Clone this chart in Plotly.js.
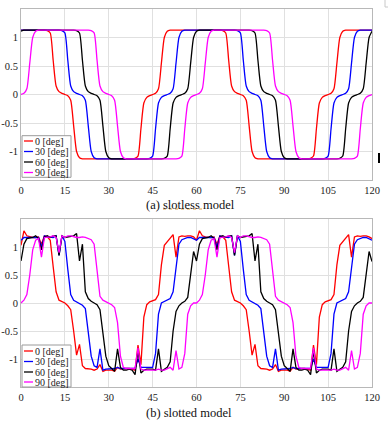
<!DOCTYPE html>
<html>
<head>
<meta charset="utf-8">
<script src="https://cdn.plot.ly/plotly-3.0.1.min.js"></script>
<style>
html,body{margin:0;padding:0;background:#fff;}
#chart{width:388px;height:426px;}
</style>
</head>
<body>
<div id="chart"></div>
<script>
// ---- data ----
const seriesNames = ["0 [deg]", "30 [deg]", "60 [deg]", "90 [deg]"];
const seriesColors = ["#ff0000", "#0000ff", "#000000", "#ff00ff"];
const xTickVals = [0, 15, 30, 45, 60, 75, 90, 105, 120];
const xTickText = ["0", "15", "30", "45", "60", "75", "90", "105", "120"];
const yTickVals = [-1, -0.5, 0, 0.5, 1];
const yTickText = ["-1", "-0.5", "0", "0.5", "1"];
const captionA = "(a) slotless model";
const captionB = "(b) slotted model";

// angle samples 0..120
const angle = [];
for (let i = 0; i <= 120; i++) angle.push(i);

// (a) slotless model
const slotless0 = [
1.13,1.13,1.13,1.13,1.13,1.13,1.13,1.13,1.13,1.12,
1.08,0.6,0.15,0.05,0.02,0,-0.02,-0.1,-0.55,-1,
-1.11,-1.13,-1.13,-1.13,-1.13,-1.13,-1.13,-1.13,-1.13,-1.13,
-1.13,-1.13,-1.13,-1.13,-1.13,-1.13,-1.13,-1.13,-1.13,-1.12,
-1.08,-0.6,-0.15,-0.05,-0.02,0,0.02,0.1,0.55,1,
1.11,1.13,1.13,1.13,1.13,1.13,1.13,1.13,1.13,1.13,
1.13,1.13,1.13,1.13,1.13,1.13,1.13,1.13,1.13,1.12,
1.08,0.6,0.15,0.05,0.02,0,-0.02,-0.1,-0.55,-1,
-1.11,-1.13,-1.13,-1.13,-1.13,-1.13,-1.13,-1.13,-1.13,-1.13,
-1.13,-1.13,-1.13,-1.13,-1.13,-1.13,-1.13,-1.13,-1.13,-1.12,
-1.08,-0.6,-0.15,-0.05,-0.02,0,0.02,0.1,0.55,1,
1.11,1.13,1.13,1.13,1.13,1.13,1.13,1.13,1.13,1.13,
1.13];
const slotless30 = [
1.13,1.13,1.13,1.13,1.13,
1.13,1.13,1.13,1.13,1.13,1.13,1.13,1.13,1.13,1.12,
1.08,0.6,0.15,0.05,0.02,0,-0.02,-0.1,-0.55,-1,
-1.11,-1.13,-1.13,-1.13,-1.13,-1.13,-1.13,-1.13,-1.13,-1.13,
-1.13,-1.13,-1.13,-1.13,-1.13,-1.13,-1.13,-1.13,-1.13,-1.12,
-1.08,-0.6,-0.15,-0.05,-0.02,0,0.02,0.1,0.55,1,
1.11,1.13,1.13,1.13,1.13,1.13,1.13,1.13,1.13,1.13,
1.13,1.13,1.13,1.13,1.13,1.13,1.13,1.13,1.13,1.12,
1.08,0.6,0.15,0.05,0.02,0,-0.02,-0.1,-0.55,-1,
-1.11,-1.13,-1.13,-1.13,-1.13,-1.13,-1.13,-1.13,-1.13,-1.13,
-1.13,-1.13,-1.13,-1.13,-1.13,-1.13,-1.13,-1.13,-1.13,-1.12,
-1.08,-0.6,-0.15,-0.05,-0.02,0,0.02,0.1,0.55,1,
1.11,1.13,1.13,1.13,1.13,1.13];
const slotless60 = [
1.11,1.13,1.13,1.13,1.13,1.13,1.13,1.13,1.13,1.13,
1.13,1.13,1.13,1.13,1.13,1.13,1.13,1.13,1.13,1.12,
1.08,0.6,0.15,0.05,0.02,0,-0.02,-0.1,-0.55,-1,
-1.11,-1.13,-1.13,-1.13,-1.13,-1.13,-1.13,-1.13,-1.13,-1.13,
-1.13,-1.13,-1.13,-1.13,-1.13,-1.13,-1.13,-1.13,-1.13,-1.12,
-1.08,-0.6,-0.15,-0.05,-0.02,0,0.02,0.1,0.55,1,
1.11,1.13,1.13,1.13,1.13,1.13,1.13,1.13,1.13,1.13,
1.13,1.13,1.13,1.13,1.13,1.13,1.13,1.13,1.13,1.12,
1.08,0.6,0.15,0.05,0.02,0,-0.02,-0.1,-0.55,-1,
-1.11,-1.13,-1.13,-1.13,-1.13,-1.13,-1.13,-1.13,-1.13,-1.13,
-1.13,-1.13,-1.13,-1.13,-1.13,-1.13,-1.13,-1.13,-1.13,-1.12,
-1.08,-0.6,-0.15,-0.05,-0.02,0,0.02,0.1,0.55,1,
1.11];
const slotless90 = [
0,0.02,0.1,0.55,1,
1.11,1.13,1.13,1.13,1.13,1.13,1.13,1.13,1.13,1.13,
1.13,1.13,1.13,1.13,1.13,1.13,1.13,1.13,1.13,1.12,
1.08,0.6,0.15,0.05,0.02,0,-0.02,-0.1,-0.55,-1,
-1.11,-1.13,-1.13,-1.13,-1.13,-1.13,-1.13,-1.13,-1.13,-1.13,
-1.13,-1.13,-1.13,-1.13,-1.13,-1.13,-1.13,-1.13,-1.13,-1.12,
-1.08,-0.6,-0.15,-0.05,-0.02,0,0.02,0.1,0.55,1,
1.11,1.13,1.13,1.13,1.13,1.13,1.13,1.13,1.13,1.13,
1.13,1.13,1.13,1.13,1.13,1.13,1.13,1.13,1.13,1.12,
1.08,0.6,0.15,0.05,0.02,0,-0.02,-0.1,-0.55,-1,
-1.11,-1.13,-1.13,-1.13,-1.13,-1.13,-1.13,-1.13,-1.13,-1.13,
-1.13,-1.13,-1.13,-1.13,-1.13,-1.13,-1.13,-1.13,-1.13,-1.12,
-1.08,-0.6,-0.15,-0.05,-0.02,0];

// (b) slotted model
const slotted0 = [
1.03,1.29,1.2,1.18,1.17,1.17,1.18,1.05,1.2,1.18,
1.12,0.65,0.2,0.05,0.02,0,-0.05,-0.12,-0.5,-0.93,
-0.74,-1.12,-1.17,-1.17,-1.18,-1.2,-1.18,-1.1,-1.22,-1.2,
-1.2,-1.2,-1.22,-1.15,-1.18,-1.17,-1.17,-1.17,-1.18,-1.2,
-0.75,-1.1,-0.25,-0.03,0.02,0.04,0.06,0.15,0.68,1.03,
1.1,1.16,1.22,0.82,1.18,1.2,1.19,1.2,1.2,1.18,
1.12,1.29,1.2,1.18,1.17,1.17,1.18,1.05,1.2,1.18,
1.12,0.65,0.2,0.05,0.02,0,-0.05,-0.12,-0.5,-0.93,
-0.74,-1.12,-1.17,-1.17,-1.18,-1.2,-1.18,-1.1,-1.22,-1.2,
-1.2,-1.2,-1.22,-1.15,-1.18,-1.17,-1.17,-1.17,-1.18,-1.2,
-0.75,-1.1,-0.25,-0.03,0.02,0.04,0.06,0.15,0.68,1.03,
1.1,1.16,1.22,0.82,1.18,1.2,1.19,1.2,1.2,1.18,
1.15];
const slotted30 = [
1.12,1.17,1.17,1.17,1.17,1.18,1.17,1.0,1.2,1.18,
1.18,1.17,1.2,0.85,1.2,1.1,0.6,0.15,0.05,0.02,
0,-0.04,-0.1,-0.55,-0.95,-1.12,-1.15,-0.82,-1.2,-1.18,
-1.18,-1.18,-1.17,-1.15,-1.17,-1.17,-1.17,-1.17,-1.17,-1.17,
-1.0,-1.15,-1.15,-1.15,-1.15,-1.15,-0.9,-0.2,0,0.03,
0.05,0.08,0.2,0.65,1.05,1.13,1.15,1.17,1.17,1.15,
1.12,1.17,1.17,1.17,1.17,1.18,1.17,1.0,1.2,1.18,
1.18,1.17,1.2,0.85,1.2,1.1,0.6,0.15,0.05,0.02,
0,-0.04,-0.1,-0.55,-0.95,-1.12,-1.15,-0.82,-1.2,-1.18,
-1.18,-1.18,-1.17,-1.15,-1.17,-1.17,-1.17,-1.17,-1.17,-1.17,
-1.0,-1.15,-1.15,-1.15,-1.15,-1.15,-0.9,-0.2,0,0.03,
0.05,0.08,0.2,0.65,1.05,1.13,1.15,1.17,1.17,1.15,
1.12];
const slotted60 = [
0.75,1.05,1.15,1.16,1.17,1.2,1.15,0.95,1.18,1.2,
1.17,1.2,1.2,0.85,1.2,1.17,1.18,1.18,1.2,1.24,
0.75,1.05,0.2,0.08,0.03,0,-0.03,-0.12,-0.55,-0.95,
-1.12,-1.18,-1.22,-0.82,-1.15,-1.2,-1.2,-1.18,-1.2,-1.28,
-0.85,-1.25,-1.2,-1.18,-1.18,-1.18,-1.2,-0.82,-1.22,-1.18,
-1.15,-1.05,-0.5,-0.15,-0.05,0,0.03,0.1,0.5,0.92,
0.75,1.05,1.15,1.16,1.17,1.2,1.15,0.95,1.18,1.2,
1.17,1.2,1.2,0.85,1.2,1.17,1.18,1.18,1.2,1.24,
0.75,1.05,0.2,0.08,0.03,0,-0.03,-0.12,-0.55,-0.95,
-1.12,-1.18,-1.22,-0.82,-1.15,-1.2,-1.2,-1.18,-1.2,-1.28,
-0.85,-1.25,-1.2,-1.18,-1.18,-1.18,-1.2,-0.82,-1.22,-1.18,
-1.15,-1.05,-0.5,-0.15,-0.05,0,0.03,0.1,0.5,0.92,
0.74];
const slotted90 = [
0,0.05,0.15,0.5,0.95,1.12,1.15,0.82,1.17,1.17,
1.18,1.2,1.17,0.9,1.2,1.17,1.2,1.2,1.18,1.17,
1.17,1.18,1.17,1.15,1.13,1.05,0.6,0.12,0.05,0.02,
0,-0.03,-0.08,-0.35,-0.95,-1.15,-1.17,-1.17,-1.17,-1.17,
-0.8,-1.18,-1.2,-1.2,-1.2,-1.2,-1.2,-1.18,-1.2,-1.2,
-1.18,-1.15,-1.2,-0.85,-1.18,-1.15,-0.9,-0.2,-0.05,0,
0,0.05,0.15,0.5,0.95,1.12,1.15,0.82,1.17,1.17,
1.18,1.2,1.17,0.9,1.2,1.17,1.2,1.2,1.18,1.17,
1.17,1.18,1.17,1.15,1.13,1.05,0.6,0.12,0.05,0.02,
0,-0.03,-0.08,-0.35,-0.95,-1.15,-1.17,-1.17,-1.17,-1.17,
-0.8,-1.18,-1.2,-1.2,-1.2,-1.2,-1.2,-1.18,-1.2,-1.2,
-1.18,-1.15,-1.2,-0.85,-1.18,-1.15,-0.9,-0.2,-0.05,0,
0];

const slotlessSeries = [slotless0, slotless30, slotless60, slotless90];
const slottedSeries = [slotted0, slotted30, slotted60, slotted90];

// ---- layout helpers (pixel -> paper) ----
const W = 388, H = 426;
const M = {l: 21, r: 16, t: 9, b: 39};
const PW = W - M.l - M.r, PH = H - M.t - M.b;
const PX = p => (p - M.l) / PW;
const PY = p => (H - M.b - p) / PH;

const SERIF = "Liberation Serif, Times New Roman, serif";

const traces = [];
slotlessSeries.forEach((s, i) => traces.push({
  x: angle, y: s, xaxis: "x", yaxis: "y", type: "scatter", mode: "lines",
  name: seriesNames[i], line: {color: seriesColors[i], width: 1.3, shape: "spline", smoothing: 0.6},
  showlegend: false, hoverinfo: "skip"
}));
slottedSeries.forEach((s, i) => traces.push({
  x: angle, y: s, xaxis: "x2", yaxis: "y2", type: "scatter", mode: "lines",
  name: seriesNames[i], line: {color: seriesColors[i], width: 1.3},
  showlegend: false, hoverinfo: "skip"
}));

const xAx = (anchor) => ({
  anchor: anchor, domain: [0, 1], range: [0, 120], tickvals: xTickVals, ticktext: xTickText,
  showgrid: true, gridcolor: "#e0e0e0", gridwidth: 1, zeroline: false,
  showline: true, mirror: true, linecolor: "#b8b8b8", linewidth: 1, ticks: "",
  tickfont: {family: SERIF, size: 10.5, color: "#222"}, fixedrange: true
});
const yAx = (anchor, dom) => ({
  anchor: anchor, domain: dom, range: [-1.5, 1.5], tickvals: yTickVals, ticktext: yTickText,
  showgrid: true, gridcolor: "#e0e0e0", gridwidth: 1, zeroline: false,
  showline: true, mirror: true, linecolor: "#b8b8b8", linewidth: 1, ticks: "",
  tickfont: {family: SERIF, size: 10.5, color: "#222"}, fixedrange: true
});

const shapes = [];
const annotations = [];
function addLegend(boxTop, boxBottom, rows) {
  shapes.push({type: "rect", xref: "paper", yref: "paper",
    x0: PX(22), x1: PX(71), y0: PY(boxBottom), y1: PY(boxTop),
    line: {color: "#9a9a9a", width: 1}, fillcolor: "#ffffff", layer: "above"});
  rows.forEach((ry, i) => {
    shapes.push({type: "line", xref: "paper", yref: "paper",
      x0: PX(24), x1: PX(33), y0: PY(ry), y1: PY(ry),
      line: {color: seriesColors[i], width: 1.3}, layer: "above"});
    annotations.push({xref: "paper", yref: "paper", x: PX(33.5), y: PY(ry),
      xanchor: "left", yanchor: "middle", showarrow: false, text: seriesNames[i],
      font: {family: SERIF, size: 10, color: "#222"}, borderpad: 0});
  });
}
addLegend(135.7, 177.3, [141, 151.5, 162, 172.5]);
addLegend(345, 387, [351, 361.5, 372, 382]);

annotations.push({xref: "paper", yref: "paper", x: PX(190), y: PY(204.5),
  xanchor: "center", yanchor: "middle", showarrow: false, text: captionA,
  font: {family: SERIF, size: 12.5, color: "#111"}});
annotations.push({xref: "paper", yref: "paper", x: PX(189), y: PY(413),
  xanchor: "center", yanchor: "middle", showarrow: false, text: captionB,
  font: {family: SERIF, size: 12.5, color: "#111"}});

// spell-check underline under "slotless" and small marks at the right edge
shapes.push({type: "line", xref: "paper", yref: "paper", x0: PX(163), x1: PX(202), y0: PY(209), y1: PY(209),
  line: {color: "#e0a040", width: 1, dash: "dot"}});
shapes.push({type: "rect", xref: "paper", yref: "paper", x0: PX(378), x1: PX(380), y0: PY(163), y1: PY(153),
  line: {width: 0}, fillcolor: "#000000"});
shapes.push({type: "rect", xref: "paper", yref: "paper", x0: PX(385), x1: PX(390), y0: PY(7), y1: PY(-2),
  line: {color: "#c8c8c8", width: 1}, fillcolor: "rgba(0,0,0,0)"});

const layout = {
  width: W, height: H, margin: M,
  paper_bgcolor: "#ffffff", plot_bgcolor: "#ffffff",
  showlegend: false,
  xaxis: xAx("y"), yaxis: yAx("x", [PY(180), 1]),
  xaxis2: xAx("y2"), yaxis2: yAx("x2", [0, PY(219)]),
  shapes: shapes, annotations: annotations
};

Plotly.newPlot("chart", traces, layout, {displayModeBar: false, staticPlot: true});
</script>
</body>
</html>
